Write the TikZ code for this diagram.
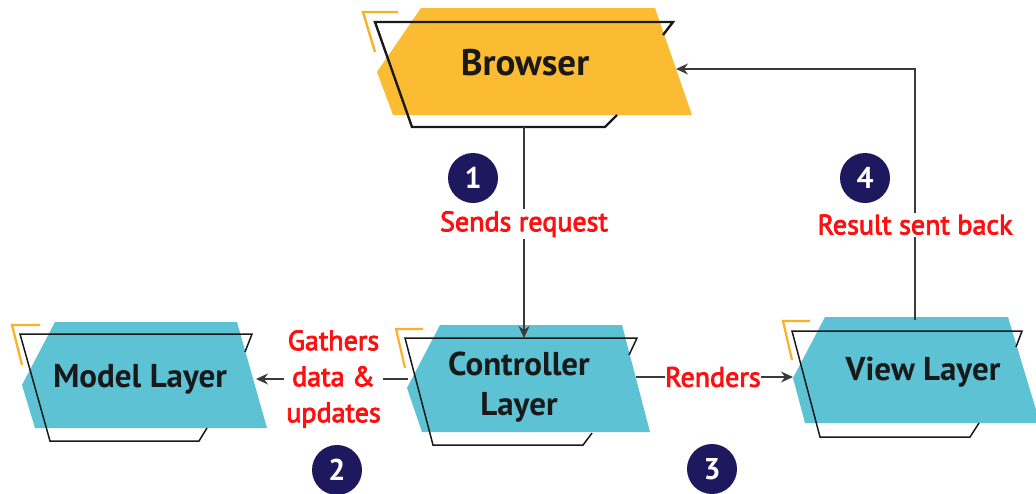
\documentclass[tikz,border=0pt]{standalone}
\usepackage{fontspec}
\setmainfont{PT Sans}
\newfontfamily\lblfont[FakeBold=3]{PT Sans}
\usetikzlibrary{arrows.meta}
\definecolor{byellow}{HTML}{FBBC33}
\definecolor{accent}{HTML}{F9B125}
\definecolor{lteal}{HTML}{5CC2D4}
\definecolor{navy}{HTML}{1E185E}
\definecolor{lred}{HTML}{FF1010}
\definecolor{conn}{HTML}{3A3A3A}
\tikzset{
  boxfill/.style={fill=lteal, draw=none},
  boxline/.style={draw=black!90, line width=1.5pt, line join=miter},
  accentline/.style={draw=accent, line width=2.2pt},
  boxtext/.style={font=\bfseries\fontsize{33}{40}\selectfont, text=black!90, align=center, inner sep=0pt},
  lbl/.style={font=\lblfont\fontsize{28}{36}\selectfont, text=lred, fill=white, align=center, inner sep=2pt},
  numcirc/.style={circle, fill=navy, minimum size=50pt, inner sep=0pt, text=white, font=\bfseries\fontsize{30}{30}\selectfont},
  connector/.style={draw=conn, line width=1.4pt, -{Stealth[length=12pt,width=11pt,inset=4pt]}},
}
\begin{document}
\begin{tikzpicture}[x=1pt,y=-1pt]
\useasboundingbox (0,0) rectangle (1036,493);
% Browser
\fill[byellow] (421,8) -- (655,8) -- (692,115) -- (393,115) -- (377,72) -- cycle;
\draw[boxline, line width=2.4pt] (663,35) -- (673,22) -- (375,22) -- (412,127) -- (605,127) -- (617,115);
\draw[accentline, line width=2.4pt] (398,12) -- (363,12) -- (375,52);
\node[boxtext, font=\bfseries\fontsize{37}{40}\selectfont] (browser) at (525,63) {Browser};
% Model
\fill[boxfill] (55,322) -- (237,322) -- (267,428) -- (35,428) -- (22,385) -- cycle;
\draw[boxline] (245,352) -- (252,334) -- (20,334) -- (50,441) -- (199,441) -- (207,428);
\draw[accentline] (40,325) -- (12,325) -- (22,365);
\node[boxtext] (model) at (140,379) {Model Layer};
% Controller
\fill[boxfill] (440,325) -- (622,325) -- (650,432) -- (422,432) -- (407,388) -- cycle;
\draw[boxline] (629,355) -- (637,338) -- (405,338) -- (433,445) -- (583,445) -- (592,433);
\draw[accentline] (423,329) -- (396,329) -- (405,368);
\node[boxtext] (ctrl) at (519,387) {Controller\\Layer};
% View
\fill[boxfill] (825,317) -- (1008,317) -- (1040,423) -- (805,423) -- (793,378) -- cycle;
\draw[boxline] (1016,347) -- (1022,331) -- (792,331) -- (820,437) -- (970,437) -- (979,423);
\draw[accentline] (810,321) -- (783,321) -- (792,360);
\node[boxtext] (view) at (923,372) {View Layer};
% connection points
\coordinate (bOut) at (524,127);
\coordinate (cIn) at (524,338);
\coordinate (cLeft) at (408,379);
\coordinate (mIn) at (256,379);
\coordinate (cRight) at (636,377);
\coordinate (vIn) at (793,377);
\coordinate (vTop) at (915,320);
\coordinate (corner) at (915,69);
\coordinate (bIn) at (676,69);
% connectors
\draw[connector] (bOut) -- node[lbl, pos=0.46] (l1) {Sends request} (cIn);
\draw[connector] (cLeft) -- node[lbl, pos=0.49, inner sep=2pt] (l2) {Gathers\\data \&\\updates} (mIn);
\draw[connector] (cRight) -- node[lbl, pos=0.49, inner sep=0pt] (l3) {Renders} (vIn);
\draw[connector] (vTop) -- node[lbl, pos=0.38] (l4) {Result sent back} (corner) -- (bIn);
% numbers
\node[numcirc] (n1) at (473,178) {1};
\node[numcirc] (n2) at (337,470) {2};
\node[numcirc] (n3) at (712,469) {3};
\node[numcirc] (n4) at (865,178) {4};
\end{tikzpicture}
\end{document}
